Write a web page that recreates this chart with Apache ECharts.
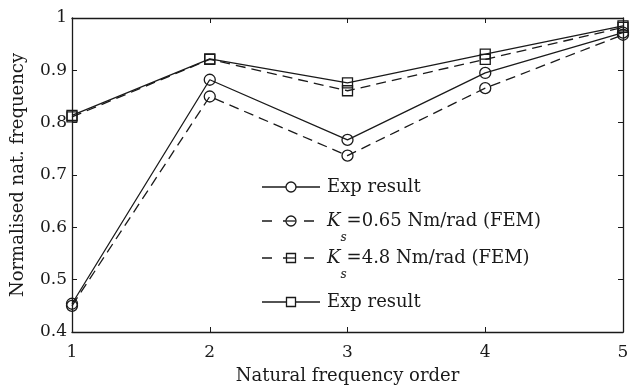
<!DOCTYPE html>
<html><head><meta charset="utf-8">
<script src="https://cdn.jsdelivr.net/npm/echarts@6/dist/echarts.min.js"></script>
<style>html,body{margin:0;padding:0;background:#fff}#c{width:630px;height:387px}</style>
</head><body><div id="c"></div>
<script>
const categories = [1, 2, 3, 4, 5];
const expCircle = [0.454, 0.882, 0.767, 0.895, 0.972];
const femCircle = [0.450, 0.850, 0.737, 0.866, 0.968];
const femSquare = [0.811, 0.921, 0.861, 0.921, 0.982];
const expSquare = [0.814, 0.922, 0.876, 0.931, 0.985];
const yTicks = [0.4, 0.5, 0.6, 0.7, 0.8, 0.9, 1];
const legendNames = ['Exp result', 'K_s=0.65 Nm/rad (FEM)', 'K_s=4.8 Nm/rad (FEM)', 'Exp result'];

const font = 'DejaVu Serif';
const fs = 17, fsName = 18, fsLeg = 18;
const chart = echarts.init(document.getElementById('c'));
function pts(arr){ return categories.map((c,i)=>[c, arr[i]]); }
function series(name, arr, symbol, dashed, size){
  return {
    name, type:'line', data: pts(arr), symbol, symbolSize:size,
    showSymbol:true, animation:false,
    lineStyle:{color:'#1a1a1a', width:1.3, type: dashed ? [10,6] : 'solid'},
    itemStyle:{color:'rgba(0,0,0,0)', borderColor:'#1a1a1a', borderWidth:1.3}
  };
}
const axisLine = {show:true, lineStyle:{color:'#1a1a1a', width:1.3}};
const tick = {show:true, inside:true, length:5, lineStyle:{color:'#1a1a1a', width:1}};
const labelStyle = {color:'#1a1a1a', fontFamily:font, fontSize:fs};

// legend graphic
const lx = 262, lw = 58, tx = 327;
const ly = [187, 221, 258, 302];
const legendGraphics = [];
const legendSpec = [
  {dash:false, sym:'circle'},
  {dash:true, sym:'circle'},
  {dash:true, sym:'rect'},
  {dash:false, sym:'rect'}
];
legendSpec.forEach((s,i)=>{
  const y = ly[i];
  legendGraphics.push({type:'line', shape:{x1:lx, y1:y, x2:lx+lw, y2:y},
    style:{stroke:'#1a1a1a', lineWidth:1.3, lineDash: s.dash ? [10,11] : null}});
  const cx = lx + lw/2;
  if (s.sym === 'circle') {
    legendGraphics.push({type:'circle', shape:{cx, cy:y, r:5}, style:{fill:'#fff', stroke:'#1a1a1a', lineWidth:1.3}});
  } else {
    legendGraphics.push({type:'rect', shape:{x:cx-4.5, y:y-4.5, width:9, height:9}, style:{fill:'#fff', stroke:'#1a1a1a', lineWidth:1.3}});
  }
  if (s.dash) {
    legendGraphics.push({type:'line', shape:{x1:cx-4.5, y1:y, x2:cx+4.5, y2:y}, style:{stroke:'#1a1a1a', lineWidth:1.3}});
  }
  const nm = legendNames[i];
  let text, rich = {
    n:{fontFamily:font, fontSize:fsLeg, fill:'#1a1a1a'},
    k:{fontFamily:font, fontSize:fsLeg, fontStyle:'italic', fill:'#1a1a1a'},
    s:{fontFamily:font, fontSize:12, fontStyle:'italic', fill:'#1a1a1a', verticalAlign:'bottom', padding:[0,0,-14,0]}
  };
  if (nm.startsWith('K_s')) {
    text = '{k|K}{s|s}{n|' + nm.slice(3) + '}';
  } else {
    text = '{n|' + nm + '}';
  }
  legendGraphics.push({type:'text', x:tx, y:y, style:{text, rich, verticalAlign:'middle', align:'left'}});
});

chart.setOption({
  animation:false,
  backgroundColor:'#fff',
  grid:{left:72, right:7, top:18, bottom:55, containLabel:false, outerBoundsMode:'none'},
  xAxis:[{
    type:'value', min:1, max:5, interval:1, position:'bottom',
    axisLine, axisTick:tick, splitLine:{show:false},
    axisLabel:{...labelStyle, margin:12},
    name:'Natural frequency order', nameLocation:'middle', nameGap:35,
    nameTextStyle:{color:'#1a1a1a', fontFamily:font, fontSize:fsName}
  },{
    type:'value', min:1, max:5, interval:1, position:'top',
    axisLine, axisTick:tick, axisLabel:{show:false}, splitLine:{show:false}
  }],
  yAxis:[{
    type:'value', min:0.4, max:1, interval:0.1, position:'left',
    axisLine, axisTick:tick, splitLine:{show:false},
    axisLabel:{...labelStyle, margin:5, formatter:v=>{const r=Math.round(v*10)/10; return r===1?'1':r.toFixed(1);}},
    name:'Normalised nat. frequency', nameLocation:'middle', nameGap:45,
    nameTextStyle:{color:'#1a1a1a', fontFamily:font, fontSize:fsName}
  },{
    type:'value', min:0.4, max:1, interval:0.1, position:'right',
    axisLine, axisTick:tick, axisLabel:{show:false}, splitLine:{show:false}
  }],
  series:[
    series('s1', expCircle, 'circle', false, 11),
    series('s2', femCircle, 'circle', true, 11),
    series('s3', femSquare, 'rect', true, 10),
    series('s4', expSquare, 'rect', false, 10)
  ],
  graphic: legendGraphics
});
</script></body></html>
